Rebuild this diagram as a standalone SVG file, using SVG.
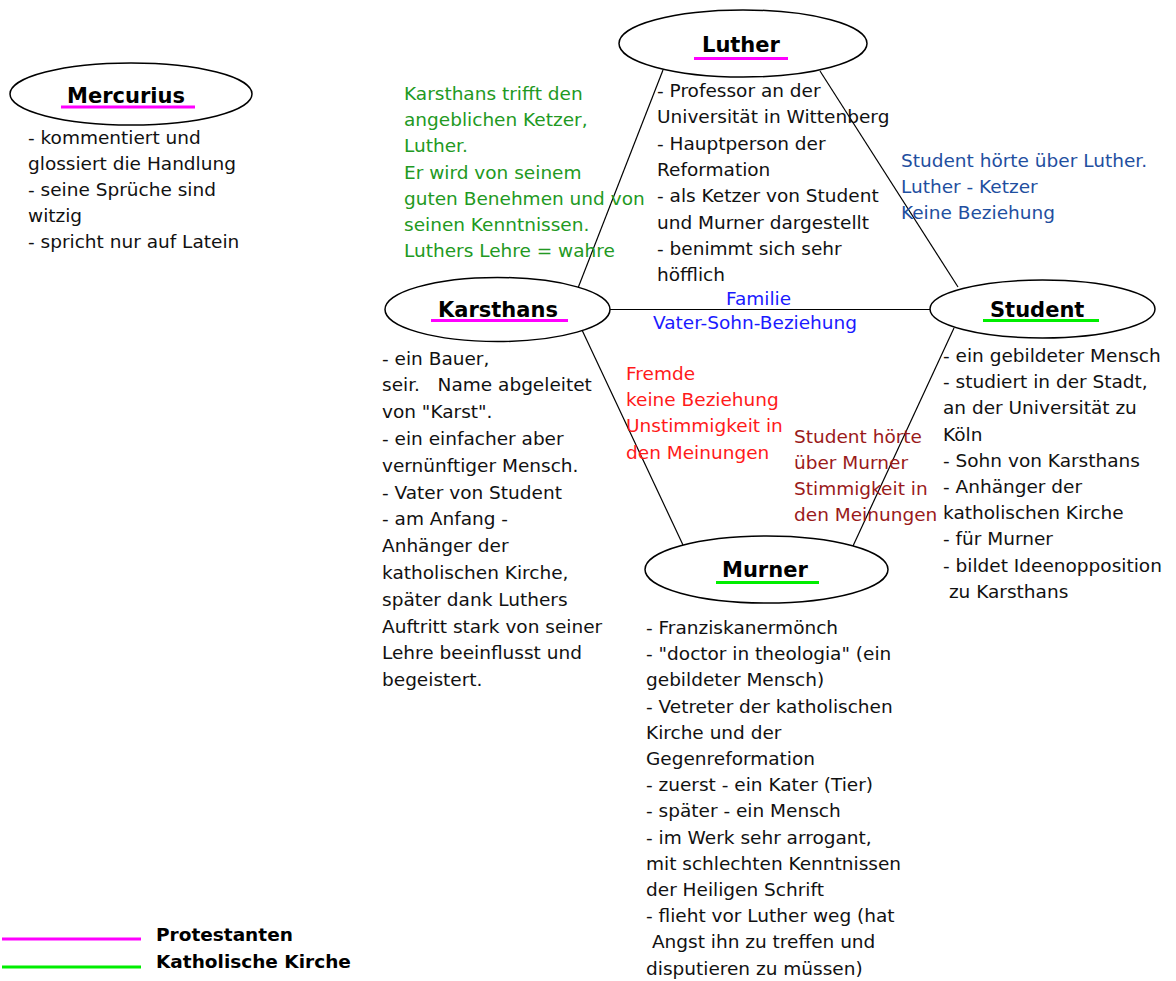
<svg xmlns="http://www.w3.org/2000/svg" width="1176" height="981" viewBox="0 0 1176 981">
<style>
  text { font-family: "DejaVu Sans", Verdana, sans-serif; font-size: 18.5px; fill: #111; white-space: pre; }
  .node { fill: #fff; stroke: #000; stroke-width: 1.5; }
  .label { font-weight: bold; font-size: 21px; fill: #000; }
  .prot { stroke: #ff00ff; stroke-width: 3; }
  .kath { stroke: #00ee00; stroke-width: 3; }
  .edge { stroke: #000; stroke-width: 1.2; fill: none; }
  .green { fill: #229922; }
  .steel { fill: #1f4f9f; }
  .blue { fill: #1a1aff; }
  .red { fill: #ff1a1a; }
  .dred { fill: #9a1a1a; }
  .legend { font-weight: bold; font-size: 18.5px; fill: #000; }
</style>

<g id="connectors">
  <line class="edge" x1="663" y1="70" x2="578" y2="288"/>
  <line class="edge" x1="820" y1="71" x2="958" y2="287"/>
  <line class="edge" x1="610" y1="309.5" x2="930" y2="309.5"/>
  <line class="edge" x1="582" y1="330" x2="683" y2="545"/>
  <line class="edge" x1="954" y1="328" x2="853" y2="546"/>
  <g id="edge-labels">
    <text class="green" x="404" y="100">Karsthans trifft den</text>
    <text class="green" x="404" y="126.2">angeblichen Ketzer,</text>
    <text class="green" x="404" y="152.4">Luther.</text>
    <text class="green" x="404" y="178.6">Er wird von seinem</text>
    <text class="green" x="404" y="204.8">guten Benehmen und von</text>
    <text class="green" x="404" y="231">seinen Kenntnissen.</text>
    <text class="green" x="404" y="257.2">Luthers Lehre = wahre</text>

    <text class="steel" x="901" y="167">Student hörte über Luther.</text>
    <text class="steel" x="901" y="193">Luther - Ketzer</text>
    <text class="steel" x="901" y="219">Keine Beziehung</text>

    <text class="blue" x="726" y="305">Familie</text>
    <text class="blue" x="653" y="329">Vater-Sohn-Beziehung</text>

    <text class="red" x="626" y="380">Fremde</text>
    <text class="red" x="626" y="406.2">keine Beziehung</text>
    <text class="red" x="626" y="432.4">Unstimmigkeit in</text>
    <text class="red" x="626" y="458.6">den Meinungen</text>

    <text class="dred" x="794" y="443">Student hörte</text>
    <text class="dred" x="794" y="469">über Murner</text>
    <text class="dred" x="794" y="495">Stimmigkeit in</text>
    <text class="dred" x="794" y="521">den Meinungen</text>
  </g>
</g>

<g id="node-mercurius">
  <ellipse class="node" cx="131" cy="94" rx="121" ry="31"/>
  <text class="label" x="67" y="103">Mercurius</text>
  <line class="prot" x1="61" y1="107" x2="195" y2="107"/>
  <text x="28" y="144">- kommentiert und</text>
  <text x="28" y="170">glossiert die Handlung</text>
  <text x="28" y="196">- seine Sprüche sind</text>
  <text x="28" y="222">witzig</text>
  <text x="28" y="248">- spricht nur auf Latein</text>
</g>

<g id="node-luther">
  <ellipse class="node" cx="743" cy="43.5" rx="124" ry="33.5"/>
  <text class="label" x="702" y="52">Luther</text>
  <line class="prot" x1="694" y1="58.5" x2="788" y2="58.5"/>
  <text x="657" y="97">- Professor an der</text>
  <text x="657" y="123.3">Universität in Wittenberg</text>
  <text x="657" y="149.6">- Hauptperson der</text>
  <text x="657" y="175.9">Reformation</text>
  <text x="657" y="202.2">- als Ketzer von Student</text>
  <text x="657" y="228.5">und Murner dargestellt</text>
  <text x="657" y="254.8">- benimmt sich sehr</text>
  <text x="657" y="281.1">höfflich</text>
</g>

<g id="node-karsthans">
  <ellipse class="node" cx="497.5" cy="309.5" rx="112.5" ry="32"/>
  <text class="label" x="438" y="317">Karsthans</text>
  <line class="prot" x1="431" y1="320.5" x2="568" y2="320.5"/>
  <text x="382" y="364.5">- ein Bauer,</text>
  <text x="382" y="391.3">seir.   Name abgeleitet</text>
  <text x="382" y="418.1">von "Karst".</text>
  <text x="382" y="444.9">- ein einfacher aber</text>
  <text x="382" y="471.7">vernünftiger Mensch.</text>
  <text x="382" y="498.5">- Vater von Student</text>
  <text x="382" y="525.3">- am Anfang -</text>
  <text x="382" y="552.1">Anhänger der</text>
  <text x="382" y="578.9">katholischen Kirche,</text>
  <text x="382" y="605.7">später dank Luthers</text>
  <text x="382" y="632.5">Auftritt stark von seiner</text>
  <text x="382" y="659.3">Lehre beeinflusst und</text>
  <text x="382" y="686.1">begeistert.</text>
</g>

<g id="node-student">
  <ellipse class="node" cx="1042.5" cy="309" rx="112.5" ry="29"/>
  <text class="label" x="990" y="317">Student</text>
  <line class="kath" x1="983" y1="320.5" x2="1099" y2="320.5"/>
  <text x="943" y="362">- ein gebildeter Mensch</text>
  <text x="943" y="388.2">- studiert in der Stadt,</text>
  <text x="943" y="414.4">an der Universität zu</text>
  <text x="943" y="440.6">Köln</text>
  <text x="943" y="466.8">- Sohn von Karsthans</text>
  <text x="943" y="493">- Anhänger der</text>
  <text x="943" y="519.2">katholischen Kirche</text>
  <text x="943" y="545.4">- für Murner</text>
  <text x="943" y="571.6">- bildet Ideenopposition</text>
  <text x="943" y="597.8"> zu Karsthans</text>
</g>

<g id="node-murner">
  <ellipse class="node" cx="766.5" cy="569.5" rx="121.5" ry="33.5"/>
  <text class="label" x="722" y="577">Murner</text>
  <line class="kath" x1="716" y1="582.5" x2="819" y2="582.5"/>
  <text x="646" y="634">- Franziskanermönch</text>
  <text x="646" y="660.2">- "doctor in theologia" (ein</text>
  <text x="646" y="686.4">gebildeter Mensch)</text>
  <text x="646" y="712.6">- Vetreter der katholischen</text>
  <text x="646" y="738.8">Kirche und der</text>
  <text x="646" y="765">Gegenreformation</text>
  <text x="646" y="791.2">- zuerst - ein Kater (Tier)</text>
  <text x="646" y="817.4">- später - ein Mensch</text>
  <text x="646" y="843.6">- im Werk sehr arrogant,</text>
  <text x="646" y="869.8">mit schlechten Kenntnissen</text>
  <text x="646" y="896">der Heiligen Schrift</text>
  <text x="646" y="922.2">- flieht vor Luther weg (hat</text>
  <text x="646" y="948.4"> Angst ihn zu treffen und</text>
  <text x="646" y="974.6">disputieren zu müssen)</text>
</g>

<g id="legend">
  <line class="prot" x1="2" y1="939" x2="141" y2="939"/>
  <line class="kath" x1="2" y1="967" x2="141" y2="967"/>
  <text class="legend" x="156" y="941">Protestanten</text>
  <text class="legend" x="156" y="968">Katholische Kirche</text>
</g>
</svg>
